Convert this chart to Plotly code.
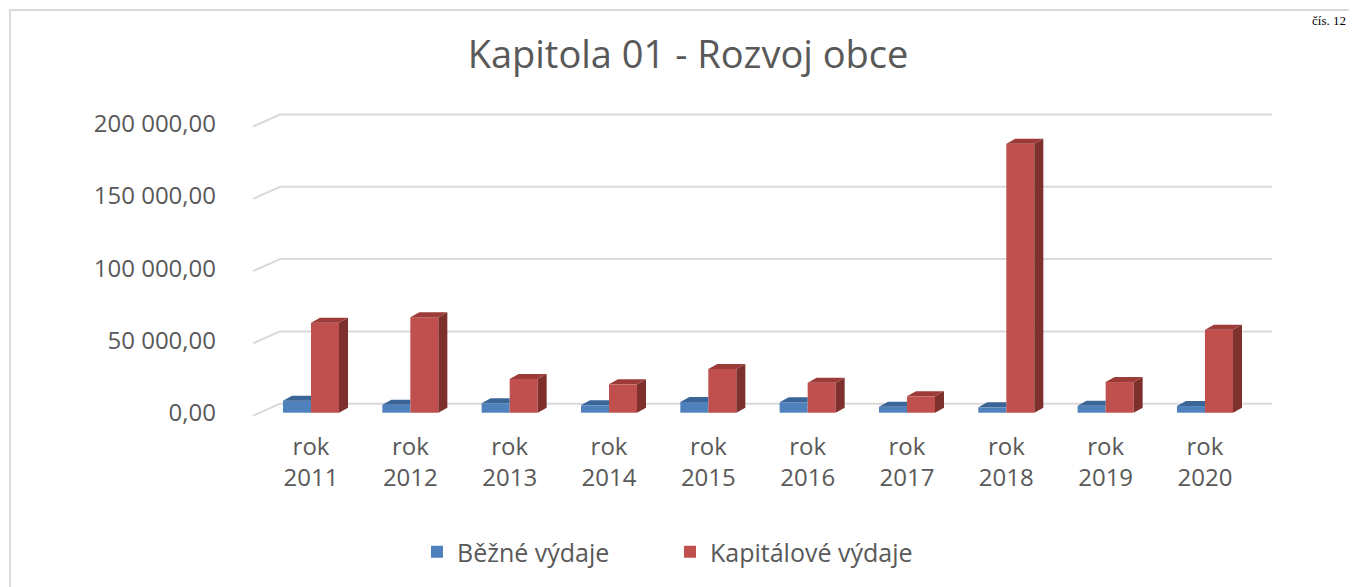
import plotly.graph_objects as go

# ---- data ----
years = ["2011", "2012", "2013", "2014", "2015", "2016", "2017", "2018", "2019", "2020"]
categories = ["rok " + y for y in years]
bezne_vydaje = [8300, 5500, 6500, 5100, 7400, 7200, 4100, 3700, 4800, 4600]
kapitalove_vydaje = [62200, 66000, 23300, 19600, 30200, 20700, 11300, 186000, 21200, 57400]
y_tick_values = [0, 50000, 100000, 150000, 200000]
y_tick_labels = ["0,00", "50 000,00", "100 000,00", "150 000,00", "200 000,00"]
series_names = ["Běžné výdaje", "Kapitálové výdaje"]

# ---- geometry (page pixels, the page body has an 8px margin) ----
OFF = 8
W, H = 1357 - OFF, 587 - OFF
def fx(px):  # page x -> figure x
    return px - OFF
def fy(py):
    return py - OFF

L, R, T, B = fx(253), fx(1272), fy(105), fy(420)   # plot area in figure pixels
PX_PER_UNIT_Y = 72.3 / 50000
Y0_PX = fy(412.7)
y_lo = -(B - Y0_PX) / PX_PER_UNIT_Y
y_hi = (Y0_PX - T) / PX_PER_UNIT_Y
PX_PER_CAT = 99.33
X0_PX = fx(311)
x_lo = (L - X0_PX) / PX_PER_CAT
x_hi = (R - X0_PX) / PX_PER_CAT

BW = 0.282
DX = 9 / PX_PER_CAT
DY = 5 / PX_PER_UNIT_Y

BLUE, BLUE_TOP = "#4F81BD", "#3B6597"
RED, RED_SIDE, RED_TOP = "#C0504D", "#7E302D", "#9C3B38"
TXT = "#595959"
GRID = "#D9D9D9"
FONT = "Open Sans"

idx = list(range(len(categories)))
xb = [i - BW / 2 for i in idx]
xr = [i + BW / 2 for i in idx]

fig = go.Figure()

fig.add_trace(go.Bar(x=xb, y=bezne_vydaje, width=BW, name=series_names[0],
                     marker=dict(color=BLUE, line=dict(width=0)), hoverinfo="y"))
fig.add_trace(go.Bar(x=xr, y=kapitalove_vydaje, width=BW, name=series_names[1],
                     marker=dict(color=RED, line=dict(width=0)), hoverinfo="y"))

def poly_trace(polys, color):
    xs, ys = [], []
    for p in polys:
        for (a, b) in p:
            xs.append(a); ys.append(b)
        xs.append(p[0][0]); ys.append(p[0][1])
        xs.append(None); ys.append(None)
    return go.Scatter(x=xs, y=ys, mode="lines", fill="toself", fillcolor=color,
                      line=dict(width=0, color=color), showlegend=False, hoverinfo="skip")

blue_tops = []
for c, v in zip(xb, bezne_vydaje):
    x0, x1 = c - BW / 2, c + BW / 2
    blue_tops.append([(x0, v), (x0 + DX, v + DY), (x1, v + DY), (x1, v)])
red_tops, red_sides = [], []
for c, v in zip(xr, kapitalove_vydaje):
    x0, x1 = c - BW / 2, c + BW / 2
    red_tops.append([(x0, v), (x0 + DX, v + DY), (x1 + DX, v + DY), (x1, v)])
    red_sides.append([(x1, 0), (x1 + DX, DY), (x1 + DX, v + DY), (x1, v)])

fig.add_trace(poly_trace(blue_tops, BLUE_TOP))
fig.add_trace(poly_trace(red_sides, RED_SIDE))
fig.add_trace(poly_trace(red_tops, RED_TOP))

def px_to_paper_x(px):  # figure px -> paper
    return (px - L) / (R - L)
def px_to_paper_y(py):
    return (B - py) / (B - T)

back_off = 9 / PX_PER_UNIT_Y
front_off = 3 / PX_PER_UNIT_Y
wall_x = px_to_paper_x(fx(280))
shapes = []
for v in y_tick_values:
    shapes.append(dict(type="line", xref="paper", yref="y", x0=wall_x, x1=1,
                       y0=v + back_off, y1=v + back_off, line=dict(color=GRID, width=2), layer="below"))
    shapes.append(dict(type="line", xref="paper", yref="y", x0=0, x1=wall_x,
                       y0=v - front_off, y1=v + back_off, line=dict(color=GRID, width=2), layer="below"))
shapes.append(dict(type="rect", xref="paper", yref="paper",
                   x0=px_to_paper_x(fx(10)), x1=px_to_paper_x(fx(1370)),
                   y0=px_to_paper_y(fy(600)), y1=px_to_paper_y(fy(10)),
                   line=dict(color=GRID, width=2), layer="below"))

fig.update_layout(
    width=W, height=H,
    margin=dict(l=L, r=W - R, t=T, b=H - B),
    paper_bgcolor="white", plot_bgcolor="white",
    barmode="overlay",
    title=dict(text="Kapitola 01 - Rozvoj obce", x=fx(688) / W, xanchor="center",
               y=1 - fy(55) / H, yanchor="middle",
               font=dict(family=FONT, size=38, color=TXT)),
    xaxis=dict(range=[x_lo, x_hi], tickmode="array", tickvals=idx,
               ticktext=["rok<br>" + y for y in years],
               showgrid=False, zeroline=False, showline=False, ticks="",
               ticklabelstandoff=10,
               tickfont=dict(family=FONT, size=24, color=TXT)),
    yaxis=dict(range=[y_lo, y_hi], tickmode="array", tickvals=y_tick_values,
               ticktext=y_tick_labels, showgrid=False, zeroline=False, showline=False,
               ticks="", ticklabelstandoff=36,
               tickfont=dict(family=FONT, size=24, color=TXT)),
    legend=dict(orientation="h", x=px_to_paper_x(fx(417)), xanchor="left",
                y=px_to_paper_y(fy(552)), yanchor="middle",
                font=dict(family=FONT, size=25, color=TXT), traceorder="normal",
                itemwidth=30, entrywidth=208, entrywidthmode="pixels",
                bgcolor="rgba(0,0,0,0)"),
    shapes=shapes,
    annotations=[dict(text="čís. 12", xref="paper", yref="paper", x=px_to_paper_x(fx(1348)),
                      xanchor="right", y=px_to_paper_y(fy(11)), yanchor="top", showarrow=False,
                      font=dict(family="Liberation Serif", size=13, color="#000000"))],
    showlegend=True,
)

fig.write_html("out.html")
